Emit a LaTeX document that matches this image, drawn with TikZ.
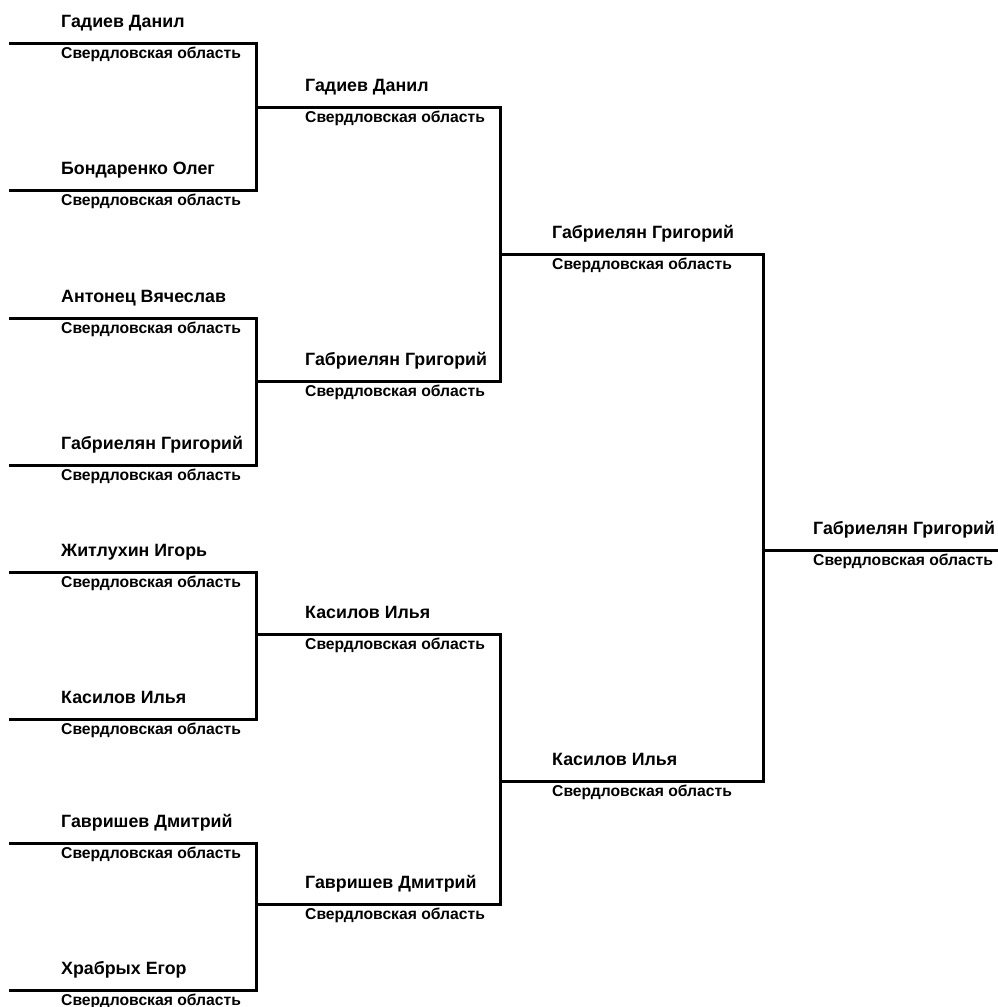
\documentclass[tikz,border=0pt]{standalone}
\usepackage{fontspec}
\setmainfont{Liberation Sans}
\begin{document}
\begin{tikzpicture}[x=1pt,y=-1pt,
  nm/.style={anchor=base west,inner sep=0pt,font=\bfseries\fontsize{17.8}{20}\selectfont},
  rg/.style={anchor=base west,inner sep=0pt,font=\bfseries\fontsize{15.7}{18}\selectfont},
  br/.style={draw=black,line width=3pt,line join=miter}]
\useasboundingbox (0,0) rectangle (998,1007);
\newcommand{\plr}[6]{% id, xl, xr, y, textx, name
  \coordinate (#1-l) at (#2,#4);
  \coordinate (#1-r) at (#3,#4);
  \node[nm] (#1-n) at (#5,#4-15.5) {#6};
  \node[rg] (#1-g) at (#5,#4+15) {Свердловская область};
}
% round 1
\plr{a1}{9}{256}{43}{61}{Гадиев Данил}
\plr{a2}{9}{256}{190}{61}{Бондаренко Олег}
\plr{a3}{9}{256}{318}{61}{Антонец Вячеслав}
\plr{a4}{9}{256}{465}{61}{Габриелян Григорий}
\plr{a5}{9}{256}{572}{61}{Житлухин Игорь}
\plr{a6}{9}{256}{719}{61}{Касилов Илья}
\plr{a7}{9}{256}{843}{61}{Гавришев Дмитрий}
\plr{a8}{9}{256}{990}{61}{Храбрых Егор}
% round 2
\plr{b1}{256}{500}{107}{305}{Гадиев Данил}
\plr{b2}{256}{500}{381}{305}{Габриелян Григорий}
\plr{b3}{256}{500}{634}{305}{Касилов Илья}
\plr{b4}{256}{500}{904}{305}{Гавришев Дмитрий}
% round 3
\plr{c1}{500}{763}{254}{552}{Габриелян Григорий}
\plr{c2}{500}{763}{781}{552}{Касилов Илья}
% final
\plr{d1}{763}{998}{550}{813}{Габриелян Григорий}
% connectors
\draw[br] (a1-l) -- (a1-r) -- (a2-r) -- (a2-l);
\draw[br] (a3-l) -- (a3-r) -- (a4-r) -- (a4-l);
\draw[br] (a5-l) -- (a5-r) -- (a6-r) -- (a6-l);
\draw[br] (a7-l) -- (a7-r) -- (a8-r) -- (a8-l);
\draw[br] (b1-l) -- (b1-r) -- (b2-r) -- (b2-l);
\draw[br] (b3-l) -- (b3-r) -- (b4-r) -- (b4-l);
\draw[br] (c1-l) -- (c1-r) -- (c2-r) -- (c2-l);
\draw[br] (d1-l) -- (d1-r);
\end{tikzpicture}
\end{document}
